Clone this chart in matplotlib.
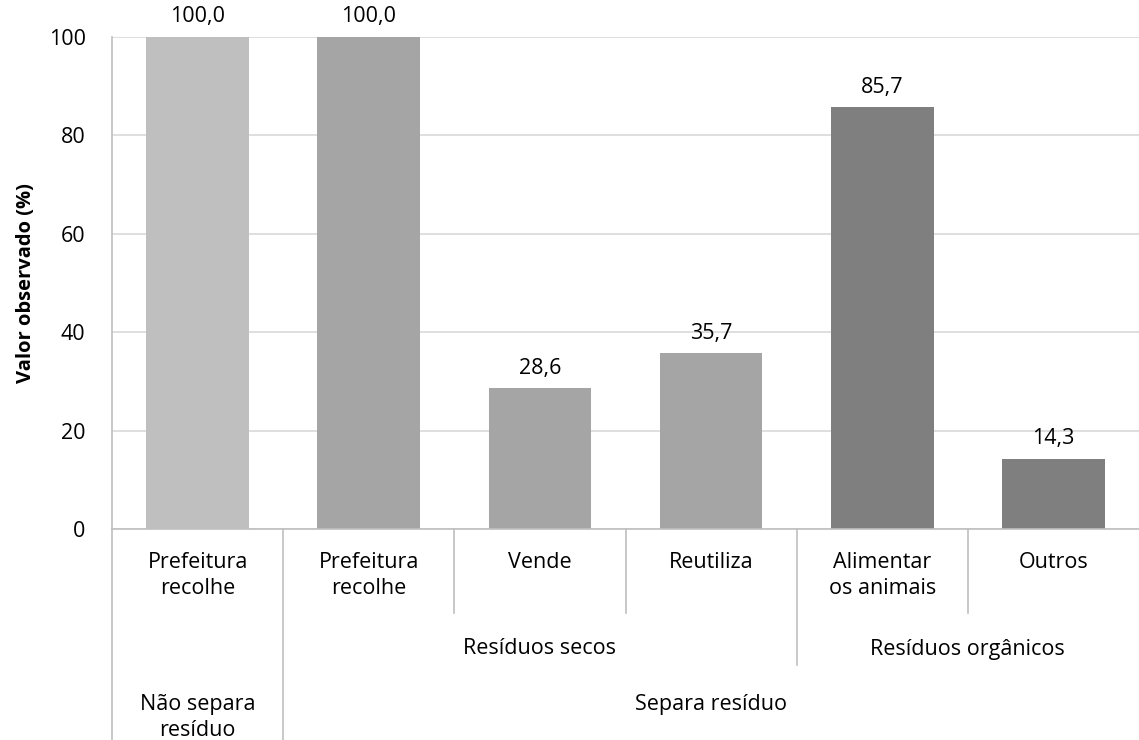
import matplotlib
matplotlib.use("Agg")
import matplotlib.pyplot as plt
from matplotlib.transforms import blended_transform_factory

plt.rcParams['font.family'] = ['Open Sans', 'DejaVu Sans']

categories = ["Prefeitura\nrecolhe", "Prefeitura\nrecolhe", "Vende", "Reutiliza",
              "Alimentar\nos animais", "Outros"]
values = [100.0, 100.0, 28.6, 35.7, 85.7, 14.3]
value_labels = ["100,0", "100,0", "28,6", "35,7", "85,7", "14,3"]
colors = ["#BFBFBF", "#A5A5A5", "#A5A5A5", "#A5A5A5", "#7F7F7F", "#7F7F7F"]
# level-1 groups: (label, first index, last index)
level1_groups = [("Resíduos secos", 1, 3), ("Resíduos orgânicos", 4, 5)]
# level-2 groups
level2_groups = [("Não separa\nresíduo", 0, 0), ("Separa resíduo", 1, 5)]
yticks = [0, 20, 40, 60, 80, 100]
ylabel = "Valor observado (%)"

FS = 15.5
W, H = 1139, 740
fig = plt.figure(figsize=(W / 100, H / 100), dpi=100)
left, right, top, bottom = 112, 1139, 37, 529
ax = fig.add_axes([left / W, (H - bottom) / H, (right - left) / W, (bottom - top) / H])

x = list(range(len(values)))
ax.bar(x, values, width=0.6, color=colors, zorder=3)
ax.set_xlim(-0.5, len(values) - 0.5)
ax.set_ylim(0, 100)
ax.set_yticks(yticks)
ax.set_yticklabels([str(t) for t in yticks], fontsize=FS)
ax.tick_params(axis='y', length=0, pad=19)
ax.set_xticks([])
ax.grid(axis='y', color="#D9D9D9", linewidth=1.2, zorder=0)
for s in ['top', 'right', 'bottom']:
    ax.spines[s].set_visible(False)
ax.spines['left'].set_color("#BFBFBF")
ax.spines['left'].set_linewidth(1.2)

for xi, v, lab in zip(x, values, value_labels):
    ax.annotate(lab, (xi, v), xytext=(0, 7), textcoords='offset points',
                ha='center', va='bottom', fontsize=FS, zorder=4, annotation_clip=False)

ax.set_ylabel(ylabel, fontsize=14.5, fontweight='bold')
ax.yaxis.set_label_coords((36 - left) / (right - left), 0.5)

tr = blended_transform_factory(ax.transData, ax.transAxes)
ph = bottom - top
def fy(py):
    return (bottom - py) / ph

lc = "#BFBFBF"
ax.plot([-0.5, len(values) - 0.5], [0, 0], color=lc, lw=1.2, transform=tr, clip_on=False, zorder=5)
y_l0, y_l1, y_l2 = fy(613), fy(665), fy(740)
for b in [0.5, 1.5, 2.5, 3.5, 4.5]:
    if b == 0.5:
        yb = y_l2
    elif b == 3.5:
        yb = y_l1
    else:
        yb = y_l0
    ax.plot([b, b], [0, yb], color=lc, lw=1.2, transform=tr, clip_on=False)
ax.plot([-0.5, -0.5], [0, y_l2], color=lc, lw=1.2, transform=tr, clip_on=False)

for xi, c in zip(x, categories):
    ax.text(xi, fy(552), c, transform=tr, ha='center', va='top', fontsize=FS, linespacing=1.3)
for lab, a, b in level1_groups:
    ax.text((a + b) / 2, fy(649), lab, transform=tr, ha='center', va='center', fontsize=FS)
for lab, a, b in level2_groups:
    ax.text((a + b) / 2, fy(694), lab, transform=tr, ha='center', va='top', fontsize=FS, linespacing=1.3)

fig.savefig("out.png", dpi=100)
